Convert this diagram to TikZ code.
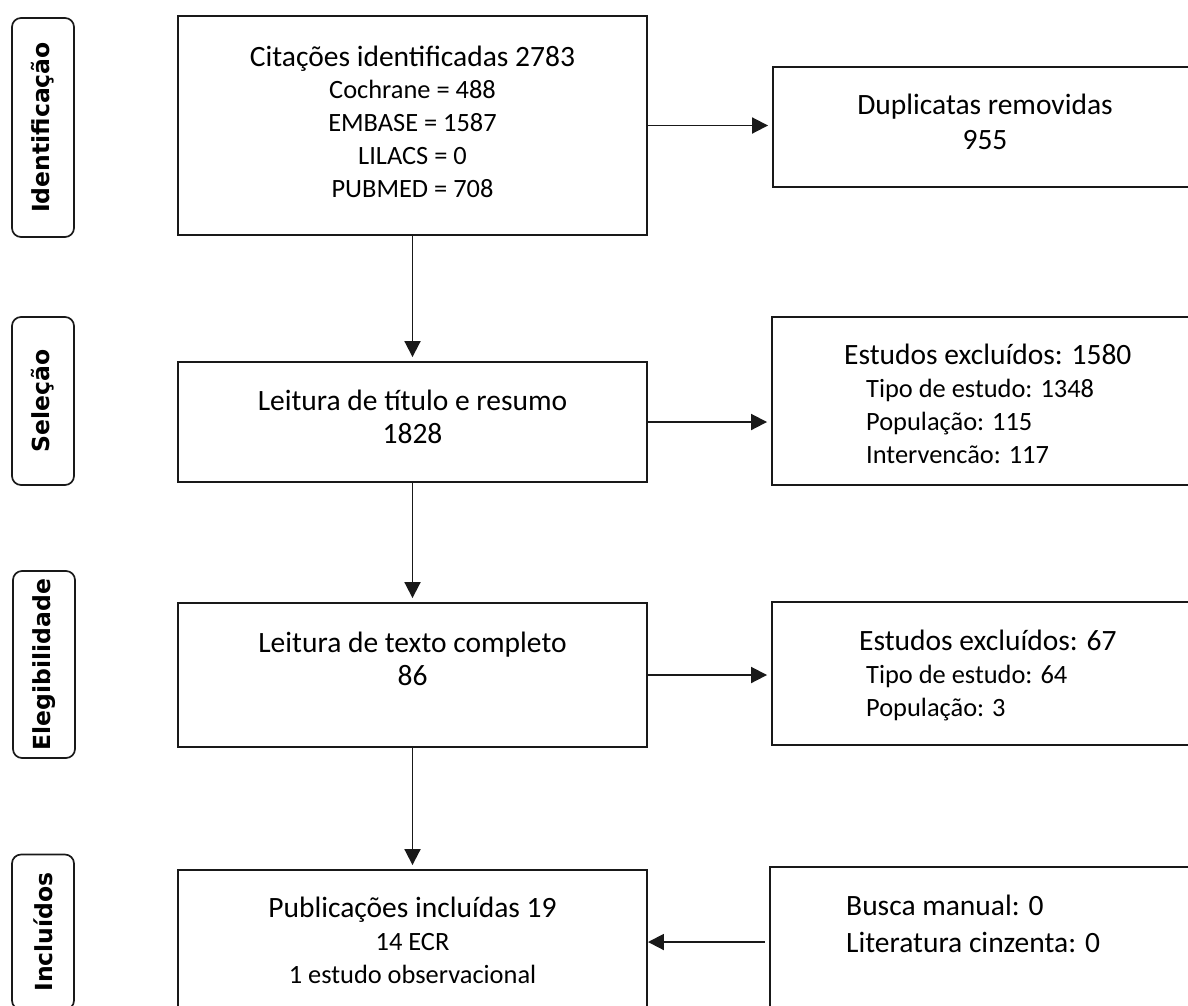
\documentclass[tikz,border=0pt]{standalone}
\usepackage{fontspec}
\setmainfont{Carlito}
\newfontfamily\sidefont{DejaVu Sans}
\usetikzlibrary{arrows.meta}
\newcommand{\bigtxt}{\fontsize{29.5}{33}\selectfont}
\newcommand{\smalltxt}{\fontsize{26.4}{33}\selectfont}

\begin{document}
\begin{tikzpicture}[x=1pt,y=-1pt,
    box/.style={draw=black!90,line width=1.9pt,rectangle,inner sep=0pt},
    side/.style={draw=black!90,line width=1.7pt,rounded corners=9pt,rotate=90,minimum height=62pt,inner sep=0pt,font=\sidefont\bfseries\fontsize{23.5}{28}\selectfont},
    txt/.style={inner sep=0pt,anchor=base,font=\smalltxt},
    arr/.style={-{Triangle[length=16pt,width=16pt]},line width=1.9pt,draw=black!90,shorten >=4pt}]
    \clip (0,0) rectangle (1188,1005);

    \node[side,minimum width=219pt] (sid) at (43,127.5) {Identificação};
    \node[side,minimum width=168pt] (ssel) at (43,401) {Seleção};
    \node[side,minimum width=187pt] (sele) at (44,664.5) {Elegibilidade};
    \node[side,minimum width=155pt] (sinc) at (43,932) {Incluídos};

    \node[box,minimum width=469pt,minimum height=219pt] (cit) at (412.5,125.5) {};
    \node[box,minimum width=469pt,minimum height=120pt] (lei) at (412.5,422) {};
    \node[box,minimum width=469pt,minimum height=144pt] (tex) at (412.5,675) {};
    \node[box,minimum width=469pt,minimum height=144pt] (pub) at (412.5,942) {};
    \node[box,minimum width=424pt,minimum height=120pt] (dup) at (985,127) {};
    \node[box,minimum width=425pt,minimum height=168pt] (exa) at (984.5,401) {};
    \node[box,minimum width=425pt,minimum height=143pt] (exb) at (984.5,673.5) {};
    \node[box,minimum width=427pt,minimum height=143pt] (bus) at (983.5,938.5) {};

    \node[txt] (tcit) at (412.5,66) {\begin{tabular}[t]{@{}c@{}}{\bigtxt Citações identificadas 2783}\\[-1pt] Cochrane = 488\\ EMBASE = 1587\\ LILACS = 0\\ PUBMED = 708\end{tabular}};
    \node[txt] (tlei) at (412.5,410) {\begin{tabular}[t]{@{}c@{}}{\bigtxt Leitura de título e resumo}\\ {\bigtxt 1828}\end{tabular}};
    \node[txt] (ttex) at (412.5,652) {\begin{tabular}[t]{@{}c@{}}{\bigtxt Leitura de texto completo}\\ {\bigtxt 86}\end{tabular}};
    \node[txt] (tpub) at (412.5,917) {\begin{tabular}[t]{@{}c@{}}{\bigtxt Publicações incluídas 19}\\ 14 ECR\\ 1 estudo observacional\end{tabular}};
    \node[txt] (tdup) at (985,114) {\begin{tabular}[t]{@{}c@{}}{\bigtxt Duplicatas removidas}\\[2pt] {\bigtxt 955}\end{tabular}};
    \node[txt,anchor=base west] (texa) at (844,364) {\begin{tabular}[t]{@{}l@{}}{\bigtxt Estudos excluídos: 1580}\\ \hspace*{22pt}Tipo de estudo: 1348\\ \hspace*{22pt}População: 115\\ \hspace*{22pt}Intervencão: 117\end{tabular}};
    \node[txt,anchor=base west] (texb) at (859,650) {\begin{tabular}[t]{@{}l@{}}{\bigtxt Estudos excluídos: 67}\\ \hspace*{7pt}Tipo de estudo: 64\\ \hspace*{7pt}População: 3\end{tabular}};
    \node[txt,anchor=base west] (tbus) at (846,915) {\begin{tabular}[t]{@{}l@{}}{\bigtxt Busca manual: 0}\\[4pt] {\bigtxt Literatura cinzenta: 0}\end{tabular}};

    \draw[arr] (cit.south) -- (lei.north);
    \draw[arr] (lei.south) -- (tex.north);
    \draw[arr] (tex.south) -- (pub.north);
    \draw[arr] (cit.east) -- (cit.east -| dup.west);
    \draw[arr] (lei.east) -- (lei.east -| exa.west);
    \draw[arr] (tex.east) -- (tex.east -| exb.west);
    \draw[arr,shorten >=0pt,shorten <=4pt] (pub.east -| bus.west) -- (pub.east);
\end{tikzpicture}
\end{document}
